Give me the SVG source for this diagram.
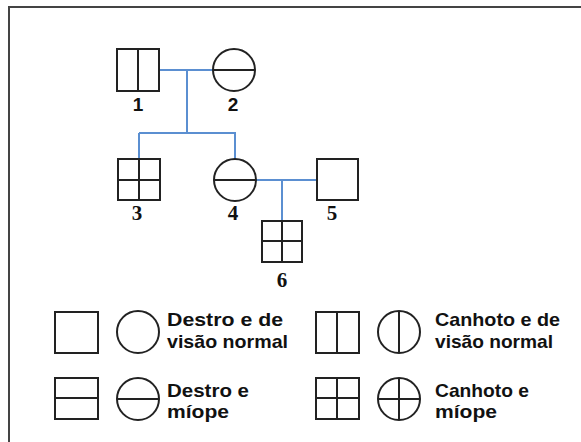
<svg xmlns="http://www.w3.org/2000/svg" width="581" height="442" viewBox="0 0 581 442">
  <defs>
    <style>
      .sym { fill: #fff; stroke: #222; stroke-width: 2; }
      .div { stroke: #222; stroke-width: 2; fill: none; }
      .link { stroke: #5b8fd1; stroke-width: 2; fill: none; }
      .frame { stroke: #444; stroke-width: 2; fill: none; }
      .numA { font-family: "Liberation Sans", Arial, sans-serif; font-weight: bold; font-size: 19px; fill: #111; text-anchor: middle; }
      .numT { font-family: "Liberation Serif", "Times New Roman", serif; font-weight: bold; font-size: 21px; fill: #111; text-anchor: middle; }
      .key { font-family: "Liberation Sans", Arial, sans-serif; font-weight: bold; font-size: 19px; fill: #111; }
    </style>
  </defs>

  <rect x="0" y="0" width="581" height="442" fill="#fff"/>
  <!-- outer frame (runs off the right and bottom) -->
  <path class="frame" d="M9,442 V7 H581"/>

  <!-- connectors -->
  <g id="connectors">
    <path class="link" d="M159,70 H213"/>
    <path class="link" d="M187,70 V133"/>
    <path class="link" d="M139,133 H236"/>
    <path class="link" d="M139,133 V159"/>
    <path class="link" d="M235,133 V159"/>
    <path class="link" d="M256,180 H317"/>
    <path class="link" d="M282,180 V221"/>
  </g>

  <!-- individuals -->
  <g id="n1">
    <rect class="sym" x="117" y="49" width="42" height="42"/>
    <path class="div" d="M138,49 V91"/>
    <text class="numA" x="138" y="111">1</text>
  </g>
  <g id="n2">
    <circle class="sym" cx="234" cy="70" r="21"/>
    <path class="div" d="M213,70 H255"/>
    <text class="numA" x="233" y="111">2</text>
  </g>
  <g id="n3">
    <rect class="sym" x="118" y="159" width="42" height="41"/>
    <path class="div" d="M139,159 V200 M118,180 H160"/>
    <text class="numT" x="137" y="220">3</text>
  </g>
  <g id="n4">
    <circle class="sym" cx="235" cy="180" r="21"/>
    <path class="div" d="M214,180 H256"/>
    <text class="numT" x="233" y="220">4</text>
  </g>
  <g id="n5">
    <rect class="sym" x="317" y="159" width="41" height="41"/>
    <text class="numT" x="332" y="220">5</text>
  </g>
  <g id="n6">
    <rect class="sym" x="262" y="221" width="40" height="41"/>
    <path class="div" d="M282,221 V262 M262,241 H302"/>
    <text class="numT" x="282" y="287">6</text>
  </g>

  <!-- key -->
  <g id="key-destro-normal">
    <rect class="sym" x="55" y="312" width="43" height="41"/>
    <circle class="sym" cx="138" cy="332" r="21"/>
    <text class="key" x="167" y="326" textLength="116" lengthAdjust="spacingAndGlyphs">Destro e de</text>
    <text class="key" x="167" y="348" textLength="121" lengthAdjust="spacingAndGlyphs">visão normal</text>
  </g>
  <g id="key-destro-miope">
    <rect class="sym" x="55" y="378" width="43" height="41"/>
    <path class="div" d="M55,398 H98"/>
    <circle class="sym" cx="138" cy="399" r="21"/>
    <path class="div" d="M117,399 H159"/>
    <text class="key" x="167" y="397" textLength="82" lengthAdjust="spacingAndGlyphs">Destro e</text>
    <text class="key" x="167" y="418" textLength="62" lengthAdjust="spacingAndGlyphs">míope</text>
  </g>
  <g id="key-canhoto-normal">
    <rect class="sym" x="316" y="312" width="43" height="41"/>
    <path class="div" d="M337,312 V353"/>
    <circle class="sym" cx="399" cy="332" r="21"/>
    <path class="div" d="M399,311 V353"/>
    <text class="key" x="435" y="326" textLength="125" lengthAdjust="spacingAndGlyphs">Canhoto e de</text>
    <text class="key" x="435" y="348" textLength="118" lengthAdjust="spacingAndGlyphs">visão normal</text>
  </g>
  <g id="key-canhoto-miope">
    <rect class="sym" x="316" y="378" width="43" height="41"/>
    <path class="div" d="M337,378 V419 M316,398 H359"/>
    <circle class="sym" cx="399" cy="399" r="21"/>
    <path class="div" d="M399,378 V420 M378,399 H420"/>
    <text class="key" x="435" y="397" textLength="94" lengthAdjust="spacingAndGlyphs">Canhoto e</text>
    <text class="key" x="435" y="418" textLength="62" lengthAdjust="spacingAndGlyphs">míope</text>
  </g>
</svg>
